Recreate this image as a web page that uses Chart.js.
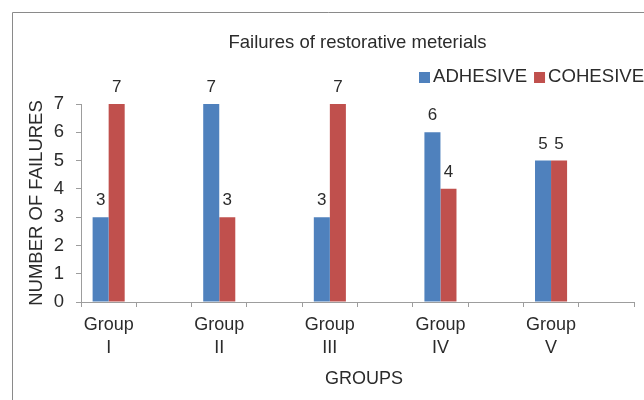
<!DOCTYPE html>
<html>
<head>
<meta charset="UTF-8">
<title>Failures of restorative meterials</title>
<script src="https://cdn.jsdelivr.net/npm/chart.js"></script>
<style>
  body { margin: 0; background: #fff; }
  canvas { display: block; }
</style>
</head>
<body>
<canvas id="failChart" width="644" height="400"></canvas>
<script>
const TITLE = 'Failures of restorative meterials';
const X_TITLE = 'GROUPS';
const Y_TITLE = 'NUMBER OF FAILURES';
const GROUPS = ['I', 'II', 'III', 'IV', 'V'];
const ADHESIVE = [3, 7, 3, 6, 5];
const COHESIVE = [7, 3, 7, 4, 5];
const Y_TICKS = [0, 1, 2, 3, 4, 5, 6, 7];

const FONT = '"Liberation Sans", Arial, sans-serif';
const TEXT = '#2b2b2b';
const AXIS = '#9d9d9d';

// the sheet has an empty slot after every group, so bars sit left of the gap
const labels = [];
const adh = [];
const coh = [];
GROUPS.forEach((g, i) => {
  labels.push(['Group', g], '');
  adh.push(ADHESIVE[i], null);
  coh.push(COHESIVE[i], null);
});

Chart.defaults.font.family = FONT;
Chart.defaults.color = TEXT;

// grey frame round the chart (top and left edges show)
const frame = {
  id: 'frame',
  beforeDraw(chart) {
    const ctx = chart.ctx;
    ctx.save();
    ctx.strokeStyle = '#8a8a8a';
    ctx.lineWidth = 1;
    ctx.beginPath();
    ctx.moveTo(12.5, chart.height);
    ctx.lineTo(12.5, 12.5);
    ctx.lineTo(chart.width, 12.5);
    ctx.stroke();
    ctx.restore();
  }
};

// title centred over the plot, legend on the right, x axis title
const header = {
  id: 'header',
  afterDraw(chart) {
    const { ctx, chartArea } = chart;
    ctx.save();
    ctx.fillStyle = TEXT;
    ctx.font = '18.5px ' + FONT;
    ctx.textAlign = 'center';
    ctx.textBaseline = 'alphabetic';
    ctx.fillText(TITLE, (chartArea.left + chartArea.right) / 2, 48);

    ctx.font = '18px ' + FONT;
    ctx.fillText(X_TITLE, 364, 384);

    ctx.font = '18.6px ' + FONT;
    ctx.textAlign = 'left';
    let x = 419;
    chart.data.datasets.forEach(ds => {
      ctx.fillStyle = ds.backgroundColor;
      ctx.fillRect(x, 72, 11, 11);
      ctx.fillStyle = TEXT;
      ctx.fillText(ds.label, x + 14, 82);
      x += 14 + ctx.measureText(ds.label).width + 7;
    });
    ctx.restore();
  }
};

// value above each bar
const valueLabels = {
  id: 'valueLabels',
  afterDatasetsDraw(chart) {
    const ctx = chart.ctx;
    ctx.save();
    ctx.fillStyle = TEXT;
    ctx.font = '17px ' + FONT;
    ctx.textAlign = 'center';
    ctx.textBaseline = 'alphabetic';
    chart.data.datasets.forEach((ds, di) => {
      chart.getDatasetMeta(di).data.forEach((bar, i) => {
        const v = ds.data[i];
        if (v === null || v === undefined) return;
        ctx.fillText(String(v), bar.x, bar.y - 12);
      });
    });
    ctx.restore();
  }
};

new Chart(document.getElementById('failChart'), {
  type: 'bar',
  data: {
    labels: labels,
    datasets: [
      { label: 'ADHESIVE', data: adh, backgroundColor: '#4f81bd' },
      { label: 'COHESIVE', data: coh, backgroundColor: '#c0504d' }
    ]
  },
  options: {
    responsive: false,
    animation: false,
    devicePixelRatio: 1,
    categoryPercentage: 0.58,
    barPercentage: 1.0,
    layout: { padding: { top: 104, right: 10, bottom: 0, left: 0 } },
    plugins: {
      legend: { display: false },
      title: { display: false },
      tooltip: { enabled: false }
    },
    scales: {
      x: {
        grid: { display: true, drawOnChartArea: false, drawTicks: true, tickLength: 5, color: AXIS, offset: true },
        border: { display: true, color: AXIS, width: 1 },
        ticks: { autoSkip: false, maxRotation: 0, padding: 6, font: { size: 18, lineHeight: 1.3 }, color: TEXT },
        afterFit(scale) { scale.height = 98; }
      },
      y: {
        min: Y_TICKS[0],
        max: Y_TICKS[Y_TICKS.length - 1],
        grid: { display: true, drawOnChartArea: false, drawTicks: true, tickLength: 5, color: AXIS },
        border: { display: true, color: AXIS, width: 1 },
        ticks: { stepSize: 1, padding: 12, font: { size: 18.5 }, color: TEXT },
        title: { display: true, text: Y_TITLE, font: { size: 18.5 }, color: TEXT, padding: { top: 26, bottom: 0 } },
        afterFit(scale) { scale.width = 81; }
      }
    }
  },
  plugins: [frame, header, valueLabels]
});
</script>
</body>
</html>
